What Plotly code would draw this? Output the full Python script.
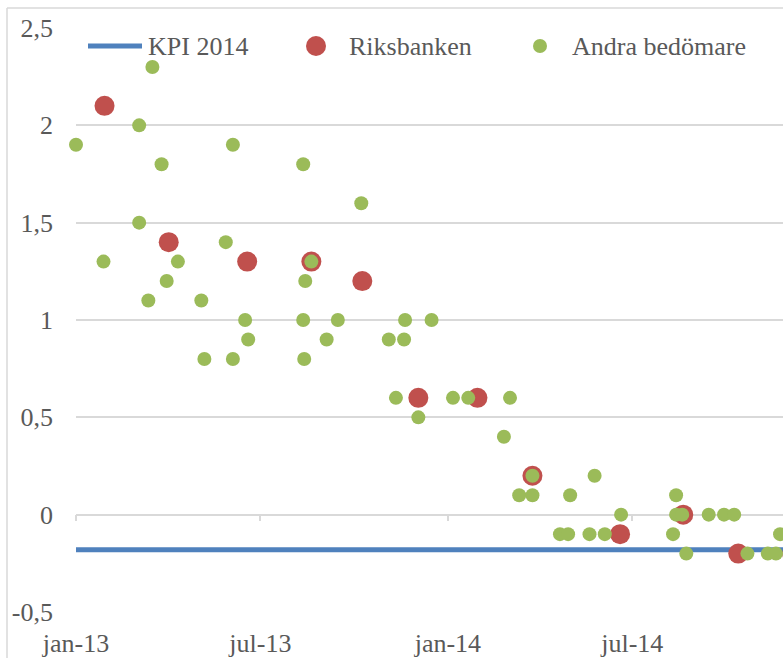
import plotly.graph_objects as go

# ---- data ----
kpi_dates = ["2013-01-01", "2014-12-31"]
kpi_values = [-0.18, -0.18]

riks_dates = ["2013-01-29", "2013-04-02", "2013-06-18", "2013-08-20", "2013-10-09",
              "2013-12-03", "2014-01-30", "2014-03-25", "2014-06-19", "2014-08-20",
              "2014-10-13", "2014-12-05"]
riks_values = [2.1, 1.4, 1.3, 1.3, 1.2, 0.6, 0.6, 0.2, -0.1, 0.0, -0.2, -0.2]

andra_dates = ["2013-01-01", "2013-01-28", "2013-03-04", "2013-03-04", "2013-03-13",
               "2013-03-17", "2013-03-26", "2013-03-31", "2013-04-11", "2013-05-04",
               "2013-05-07", "2013-05-28", "2013-06-04", "2013-06-04", "2013-06-16",
               "2013-06-19", "2013-08-12", "2013-08-12", "2013-08-13", "2013-08-14",
               "2013-08-20", "2013-09-04", "2013-09-15", "2013-10-08", "2013-11-04",
               "2013-11-11", "2013-11-19", "2013-11-20", "2013-12-03", "2013-12-16",
               "2014-01-06", "2014-01-21", "2014-02-25", "2014-03-03", "2014-03-12",
               "2014-03-25", "2014-03-25", "2014-04-21", "2014-04-29", "2014-05-01",
               "2014-05-20", "2014-05-25", "2014-06-04", "2014-06-20", "2014-08-10",
               "2014-08-13", "2014-08-13", "2014-08-19", "2014-08-23", "2014-09-14",
               "2014-09-29", "2014-10-09", "2014-10-22", "2014-11-11", "2014-11-19",
               "2014-11-23"]
andra_values = [1.9, 1.3, 2.0, 1.5, 1.1,
                2.3, 1.8, 1.2, 1.3, 1.1,
                0.8, 1.4, 1.9, 0.8, 1.0,
                0.9, 1.8, 1.0, 0.8, 1.2,
                1.3, 0.9, 1.0, 1.6, 0.9,
                0.6, 0.9, 1.0, 0.5, 1.0,
                0.6, 0.6, 0.4, 0.6, 0.1,
                0.1, 0.2, -0.1, -0.1, 0.1,
                -0.1, 0.2, -0.1, 0.0, -0.1,
                0.1, 0.0, 0.0, -0.2, 0.0,
                0.0, 0.0, -0.2, -0.2, -0.2,
                -0.1]

x_tick_vals = ["2013-01-01", "2013-07-01", "2014-01-01", "2014-07-01"]
x_tick_text = ["jan-13", "jul-13", "jan-14", "jul-14"]
y_tick_vals = [-0.5, 0, 0.5, 1, 1.5, 2, 2.5]
y_tick_text = ["-0,5", "0", "0,5", "1", "1,5", "2", "2,5"]

# the chart is wider than the visible window; its right part is cut off
x_range = ["2013-01-01", "2014-12-22 10:00"]

BLUE = "#4F81BD"
RED = "#C0504D"
GREEN = "#9BBB59"
GRID = "#D9D9D9"
TXT = "#595959"
FONT = "'Liberation Serif', 'DejaVu Serif', serif"

fig = go.Figure()
fig.add_trace(go.Scatter(x=kpi_dates, y=kpi_values, mode="lines", name="KPI 2014",
                         line=dict(color=BLUE, width=5), showlegend=False,
                         cliponaxis=True))
fig.add_trace(go.Scatter(x=riks_dates, y=riks_values, mode="markers", name="Riksbanken",
                         marker=dict(color=RED, size=20, line=dict(width=0)),
                         showlegend=False, cliponaxis=False))
fig.add_trace(go.Scatter(x=andra_dates, y=andra_values, mode="markers", name="Andra bedömare",
                         marker=dict(color=GREEN, size=14, line=dict(width=0)),
                         showlegend=False, cliponaxis=False))
# empty trace to register the overlay axis carrying the zero-line ticks
fig.add_trace(go.Scatter(x=[], y=[], xaxis="x2", yaxis="y", showlegend=False,
                         hoverinfo="skip"))

W, H = 810, 658
L, T, B = 76, 28, 46
PW, PH = W - L, H - T - B


def px(xp):
    return (xp - L) / PW


def py(yp):
    return (H - B - yp) / PH


# legend (manual, drawn in paper coordinates)
ly = py(46)
shapes = [
    dict(type="line", xref="paper", yref="paper", x0=px(88), x1=px(142), y0=ly, y1=ly,
         line=dict(color=BLUE, width=5)),
    dict(type="circle", xref="paper", yref="paper", xsizemode="pixel", ysizemode="pixel",
         xanchor=px(316), yanchor=ly, x0=-10, x1=10, y0=-10, y1=10,
         fillcolor=RED, line=dict(width=0)),
    dict(type="circle", xref="paper", yref="paper", xsizemode="pixel", ysizemode="pixel",
         xanchor=px(540), yanchor=ly, x0=-7, x1=7, y0=-7, y1=7,
         fillcolor=GREEN, line=dict(width=0)),
    # chart area border
    dict(type="line", xref="paper", yref="paper", x0=px(7), x1=px(7), y0=py(8), y1=py(700),
         line=dict(color=GRID, width=1.5)),
    dict(type="line", xref="paper", yref="paper", x0=px(7), x1=px(830), y0=py(8), y1=py(8),
         line=dict(color=GRID, width=1.5)),
]
annotations = [
    dict(text="KPI 2014", x=px(146), y=py(47), xref="paper", yref="paper",
         xanchor="left", yanchor="middle", showarrow=False,
         font=dict(family=FONT, size=26, color=TXT)),
    dict(text="Riksbanken", x=px(347), y=py(47), xref="paper", yref="paper",
         xanchor="left", yanchor="middle", showarrow=False,
         font=dict(family=FONT, size=26, color=TXT)),
    dict(text="Andra bedömare", x=px(570), y=py(47), xref="paper", yref="paper",
         xanchor="left", yanchor="middle", showarrow=False,
         font=dict(family=FONT, size=26, color=TXT)),
]

fig.update_layout(
    width=W, height=H,
    margin=dict(l=L, r=0, t=T, b=B, pad=0),
    paper_bgcolor="white", plot_bgcolor="white",
    font=dict(family=FONT, size=26, color=TXT),
    shapes=shapes, annotations=annotations,
    showlegend=False,
    xaxis=dict(type="date", range=x_range, tickvals=x_tick_vals, ticktext=x_tick_text,
               showgrid=False, showline=False, zeroline=False, ticks="",
               ticklabelstandoff=13, tickfont=dict(family=FONT, size=26, color=TXT)),
    xaxis2=dict(type="date", range=x_range, overlaying="x", anchor="free", position=1/6,
                tickvals=x_tick_vals, showticklabels=False, showgrid=False,
                showline=True, linecolor=GRID, linewidth=1.5, zeroline=False,
                ticks="outside", ticklen=6, tickwidth=1.5, tickcolor=GRID,
                layer="below traces"),
    yaxis=dict(range=[-0.5, 2.5], tickvals=y_tick_vals, ticktext=y_tick_text,
               showgrid=True, gridcolor=GRID, gridwidth=1.5, zeroline=False,
               showline=False, ticks="", ticklabelstandoff=22,
               tickfont=dict(family=FONT, size=26, color=TXT)),
)

fig.write_html("out.html",
               config={"displayModeBar": False},
               post_script="document.documentElement.style.overflow='hidden';"
                           "document.body.style.margin='0';document.body.style.padding='0';"
                           "document.body.style.overflow='hidden';")
